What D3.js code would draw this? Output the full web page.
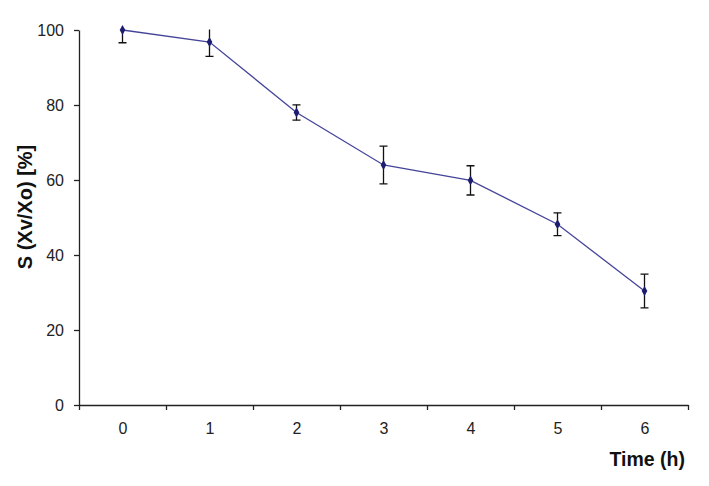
<html>
<head>
    <meta charset="utf-8">
    <title>S (Xv/Xo)</title>
    <style>
        body { margin: 0; background: #fff; }
        text { font-family: "Liberation Sans", Arial, sans-serif; }
    </style>
</head>
<body>
<script src="https://cdn.jsdelivr.net/npm/d3@7/dist/d3.min.js" charset="utf-8"></script>
<script>
    var width = 709;
    var height = 486;

    var hours = [0, 1, 2, 3, 4, 5, 6];                    // categories (time, h)
    var survival = [100, 96.8, 78.0, 64.0, 59.9, 48.2, 30.4]; // S (Xv/Xo) [%]
    var errors = [3.4, 3.85, 2.05, 5.05, 3.9, 3.05, 4.5];     // error bar half-widths
    var yTicks = [0, 20, 40, 60, 80, 100];

    var svg = d3.select('body')
            .append('svg')
            .attr('width', width)
            .attr('height', height);

    // boundaries of the categories sit half a step either side
    var x = d3.scaleLinear()
            .domain([-0.5, 6.5])
            .range([79, 688]);
    var y = d3.scaleLinear()
            .domain([0, 100])
            .range([405, 30]);

    var boundaries = d3.range(-0.5, 7, 1);

    // y axis
    var yAxis = svg.append('g')
            .attr('transform', 'translate(79,0)')
            .call(d3.axisLeft(y).tickValues(yTicks).tickSize(5).tickSizeOuter(0).tickPadding(10));
    yAxis.selectAll('text').attr('font-size', 16).attr('fill', '#222');

    // x axis: ticks between the categories, labels in the middle
    var xTicks = svg.append('g')
            .attr('transform', 'translate(0,405)')
            .call(d3.axisBottom(x).tickValues(boundaries).tickFormat('').tickSize(5).tickSizeOuter(0));
    var xLabels = svg.append('g')
            .attr('transform', 'translate(0,405)')
            .call(d3.axisBottom(x).tickValues(hours).tickFormat(d3.format('d')).tickSize(0).tickPadding(17.5));
    xLabels.select('.domain').remove();
    xLabels.selectAll('text').attr('font-size', 16).attr('fill', '#222');

    svg.selectAll('.domain, .tick line')
            .attr('stroke', '#222')
            .attr('stroke-width', 1.3);

    // axis titles
    svg.append('text')
            .attr('x', 685)
            .attr('y', 466)
            .attr('text-anchor', 'end')
            .attr('font-size', 19.5)
            .attr('font-weight', 'bold')
            .attr('fill', '#111')
            .text('Time (h)');
    svg.append('text')
            .attr('transform', 'translate(32,207) rotate(-90)')
            .attr('text-anchor', 'middle')
            .attr('font-size', 20)
            .attr('font-weight', 'bold')
            .attr('fill', '#111')
            .text('S (Xv/Xo) [%]');

    // plot area clip (error bars above 100 are cut off)
    svg.append('clipPath')
            .attr('id', 'plot')
            .append('rect')
            .attr('x', 79)
            .attr('y', 29.5)
            .attr('width', 610)
            .attr('height', 376);

    var data = hours.map(function (h, i) {
        return { h: h, v: survival[i], e: errors[i] };
    });

    var bars = svg.append('g')
            .attr('clip-path', 'url(#plot)')
            .attr('stroke', '#111')
            .attr('stroke-width', 1.3);
    bars.selectAll('line.bar')
            .data(data)
            .enter()
            .append('line')
            .attr('class', 'bar')
            .attr('x1', function (d) { return x(d.h); })
            .attr('x2', function (d) { return x(d.h); })
            .attr('y1', function (d) { return y(d.v + d.e); })
            .attr('y2', function (d) { return y(d.v - d.e); });
    [1, -1].forEach(function (s) {
        bars.selectAll('line.cap' + s)
                .data(data)
                .enter()
                .append('line')
                .attr('x1', function (d) { return x(d.h) - 4; })
                .attr('x2', function (d) { return x(d.h) + 4; })
                .attr('y1', function (d) { return y(d.v + s * d.e); })
                .attr('y2', function (d) { return y(d.v + s * d.e); });
    });

    var line = d3.line()
            .x(function (d) { return x(d.h); })
            .y(function (d) { return y(d.v); });
    svg.append('path')
            .datum(data)
            .attr('d', line)
            .attr('fill', 'none')
            .attr('stroke', '#45459a')
            .attr('stroke-width', 1.3);

    svg.selectAll('path.dot')
            .data(data)
            .enter()
            .append('path')
            .attr('class', 'dot')
            .attr('d', d3.symbol().type(d3.symbolDiamond).size(28))
            .attr('transform', function (d) { return 'translate(' + x(d.h) + ',' + y(d.v) + ')'; })
            .attr('fill', '#1c1c70');
</script>
</body>
</html>
